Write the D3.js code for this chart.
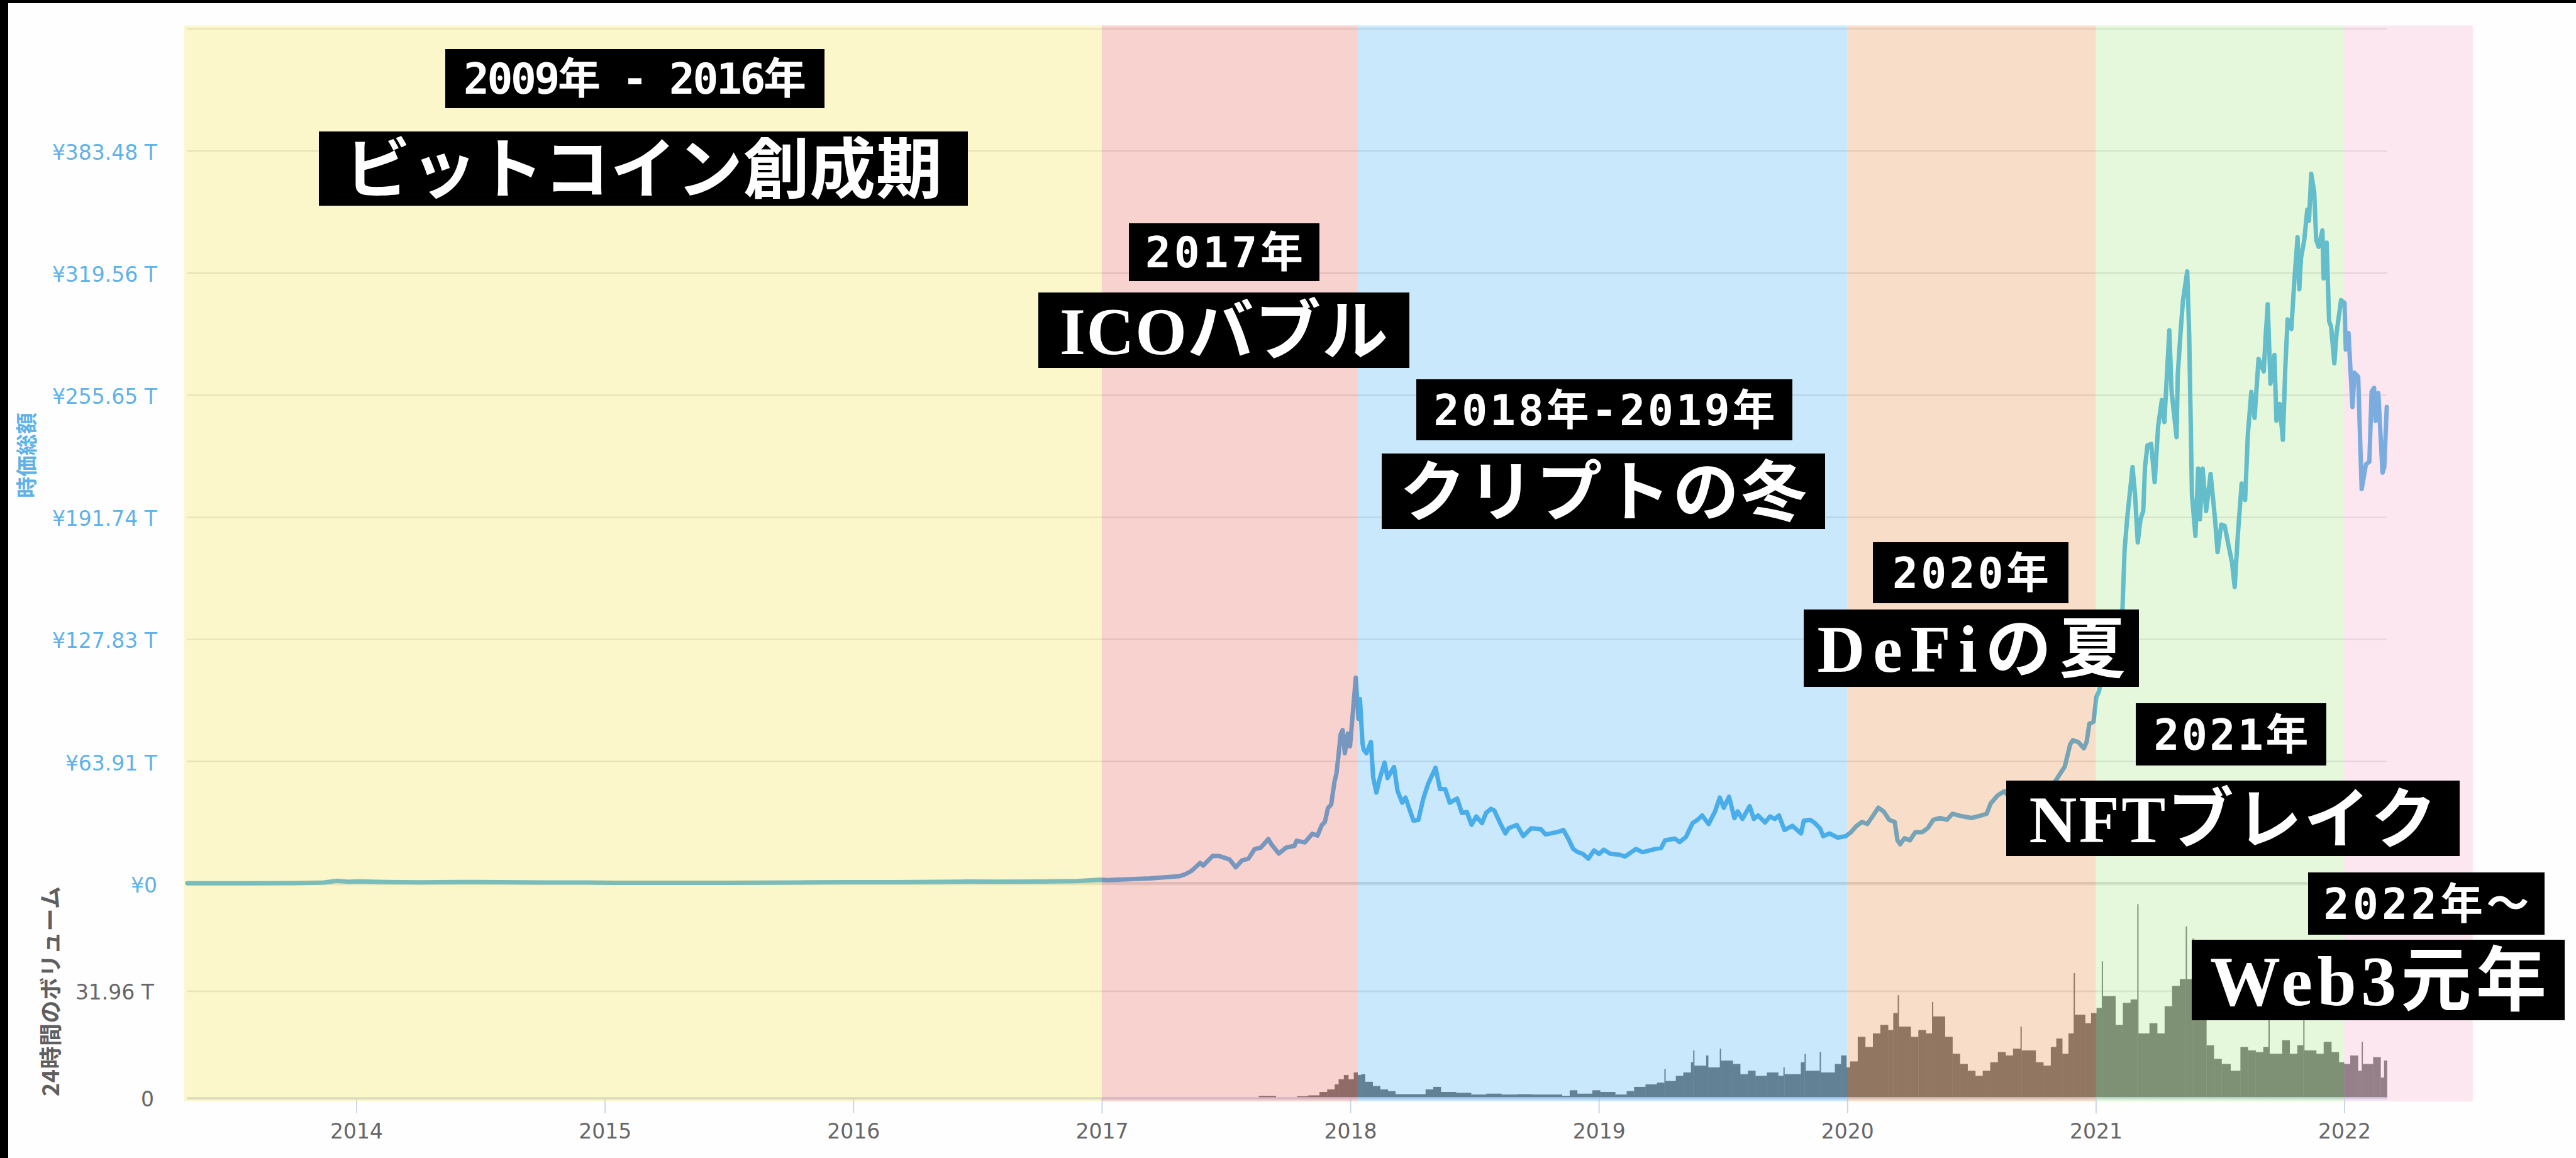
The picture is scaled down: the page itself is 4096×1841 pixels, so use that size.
<!DOCTYPE html>
<html><head><meta charset="utf-8">
<script src="https://cdn.jsdelivr.net/npm/d3@7"></script>
<style>html,body{margin:0;padding:0;background:#fff;overflow:hidden}</style>
</head><body>
<svg id="chart" width="4096" height="1841" xmlns="http://www.w3.org/2000/svg"></svg>
<script>
// ---------- DATA (decimal years, trillions of yen) ----------
const priceYears = [
2013.32,2013.42,2013.58,2013.75,2013.87,2013.92,2013.97,2014.01,2014.12,2014.25,2014.42,2014.58,2014.75,2014.92,
2015.04,2015.25,2015.50,2015.84,2015.96,2016.17,2016.46,2016.58,2016.75,2016.90,2016.995,
2017.024,2017.193,2017.311,2017.337,2017.362,2017.396,2017.408,2017.446,2017.472,2017.514,2017.539,2017.564,2017.590,
2017.615,2017.640,2017.670,2017.682,2017.712,2017.742,2017.775,2017.784,2017.817,2017.847,2017.868,2017.885,2017.898,
2017.910,2017.923,2017.936,2017.944,2017.952,2017.961,2017.969,2017.978,2017.990,2017.999,2018.007,2018.022,2018.033,
2018.039,2018.049,2018.054,2018.065,2018.083,2018.092,2018.105,2018.118,2018.138,2018.150,2018.176,2018.190,2018.209,
2018.222,2018.241,2018.254,2018.274,2018.293,2018.313,2018.343,2018.361,2018.382,2018.400,2018.430,2018.449,2018.469,
2018.488,2018.507,2018.530,2018.546,2018.566,2018.579,2018.605,2018.624,2018.637,2018.670,2018.696,2018.728,2018.767,
2018.786,2018.838,2018.858,2018.877,2018.897,2018.916,2018.936,2018.958,2018.981,2019.001,2019.020,2019.046,2019.085,
2019.105,2019.150,2019.176,2019.228,2019.251,2019.267,2019.306,2019.325,2019.351,2019.377,2019.397,2019.416,2019.442,
2019.468,2019.487,2019.503,2019.524,2019.546,2019.559,2019.578,2019.607,2019.624,2019.641,2019.669,2019.689,2019.708,
2019.725,2019.747,2019.779,2019.814,2019.825,2019.851,2019.870,2019.890,2019.903,2019.929,2019.961,2019.994,
2020.015,2020.037,2020.059,2020.081,2020.103,2020.125,2020.147,2020.169,2020.191,2020.202,2020.213,2020.230,2020.252,
2020.274,2020.302,2020.324,2020.346,2020.373,2020.401,2020.423,2020.456,2020.500,2020.533,2020.561,2020.577,2020.605,
2020.632,2020.66,2020.70,2020.74,2020.79,2020.82,2020.853,2020.875,2020.897,2020.908,2020.930,2020.952,2020.963,2020.974,
2020.991,2021.002,2021.013,2021.03,2021.05,2021.07,2021.09,2021.10,2021.107,2021.116,2021.126,2021.148,2021.158,2021.169,
2021.180,2021.191,2021.198,2021.208,2021.223,2021.237,2021.251,2021.266,2021.276,2021.296,2021.305,2021.325,2021.330,
2021.341,2021.351,2021.368,2021.376,2021.387,2021.401,2021.412,2021.419,2021.430,2021.444,2021.462,2021.480,2021.490,
2021.505,2021.519,2021.533,2021.548,2021.559,2021.572,2021.587,2021.601,2021.612,2021.626,2021.639,2021.655,2021.676,
2021.683,2021.692,2021.703,2021.719,2021.727,2021.740,2021.753,2021.763,2021.772,2021.787,2021.799,2021.812,2021.819,
2021.826,2021.839,2021.851,2021.858,2021.867,2021.879,2021.887,2021.897,2021.912,2021.917,2021.929,2021.939,2021.947,
2021.960,2021.969,2021.987,2022.001,2022.006,2022.017,2022.033,2022.041,2022.056,2022.070,2022.087,2022.101,2022.110,
2022.120,2022.126,2022.137,2022.154,2022.161,2022.171
];
const priceValues = [
0.15,0.12,0.12,0.16,0.5,1.4,0.9,1.1,0.8,0.6,0.8,0.7,0.5,0.5,
0.35,0.4,0.4,0.6,0.7,0.7,1.0,0.9,1.0,1.3,2.0,
1.8,2.7,3.8,4.9,6.7,10.8,9.4,14.4,14.4,12.6,8.5,12.1,13.0,
18.0,18.8,23.3,20.6,15.7,18.8,19.7,22.4,21.5,26.0,25.1,30.5,32.3,
39.5,41.3,53.0,57.4,66.4,78.1,80.3,68.2,78.5,71.8,84.4,107.7,86.2,
96.5,73.6,70.0,68.2,74.1,55.7,47.6,54.8,63.3,55.2,61.0,48.5,42.3,
45.0,37.8,32.9,33.3,44.1,52.1,60.6,49.4,49.4,42.3,44.5,36.9,37.4,
30.7,35.1,31.6,36.9,39.1,38.3,31.1,26.2,28.9,30.7,24.8,28.9,28.4,
25.7,27.1,28.0,23.5,18.1,16.4,15.5,13.0,17.3,15.5,17.7,15.6,15.0,
14.1,18.1,16.4,18.1,18.6,22.6,23.5,21.7,24.4,31.6,33.3,35.6,31.1,
37.8,45.0,39.6,45.4,34.2,37.8,33.8,40.5,33.8,35.6,32.0,35.1,33.8,
35.6,28.0,30.2,26.2,32.9,33.3,31.6,28.9,24.8,26.2,24.0,24.8,
26.9,30.1,32.2,31.2,35.4,39.7,37.6,33.3,32.2,22.6,20.5,23.7,22.6,
26.9,26.9,29.0,33.3,34.3,33.3,36.5,35.4,34.3,35.4,36.5,41.9,46.1,
48.3,44,42,45,47,50,56.8,61.1,72.9,75.0,74.0,70.8,74.0,83.6,
84.7,97.5,100.7,112,108,120,128,135,142.5,174.6,190.7,218.0,203.6,178.6,
190.7,195.0,218.0,229.4,230.1,210.1,239.5,253.1,241.6,289.6,257.6,233.7,266.7,
288.2,305.4,320.4,286.8,203.6,182.1,217.2,190.7,217.2,195.0,214.4,190.7,173.5,
187.9,187.2,177.8,168.2,155.3,183.1,209.4,200.8,235.2,257.4,243.8,274.6,268.1,
285.3,303.2,261.7,276.7,242.3,251.0,232.3,271.0,295.3,290.3,315.4,338.3,311.1,
327.6,336.9,352.7,347.0,371.6,362.0,336.9,333.3,341.9,316.8,335.5,294.4,291.5,
272.4,288.2,305.4,304.0,279.6,288.2,249.5,267.4,265.3,206.5,219.4,220.8,257.4,
259.5,242.3,256.7,215.1,218.0,249.5
];
const volumeYears = [
2017.632,2017.700,2017.785,2017.831,2017.876,2017.907,2017.937,2017.953,2017.974,2017.992,2018.014,2018.029,2018.044,
2018.059,2018.090,2018.120,2018.151,2018.181,2018.242,2018.303,2018.334,2018.364,2018.425,2018.486,2018.547,2018.608,
2018.669,2018.730,2018.791,2018.852,2018.883,2018.913,2018.974,2019.005,2019.066,2019.112,2019.142,2019.188,2019.234,
2019.264,2019.268,2019.310,2019.340,2019.371,2019.380,2019.384,2019.432,2019.440,2019.487,2019.491,2019.539,2019.569,
2019.600,2019.630,2019.676,2019.722,2019.743,2019.747,2019.813,2019.828,2019.832,2019.889,2019.893,2019.950,2019.975,
2019.996,2020.011,2020.042,2020.072,2020.103,2020.133,2020.164,2020.185,2020.203,2020.207,2020.255,2020.286,2020.316,
2020.341,2020.345,2020.393,2020.423,2020.453,2020.484,2020.515,2020.545,2020.575,2020.606,2020.637,2020.667,2020.697,
2020.701,2020.758,2020.789,2020.819,2020.841,2020.865,2020.890,2020.911,2020.915,2020.957,2020.981,2021.003,2021.024,
2021.028,2021.079,2021.109,2021.140,2021.167,2021.171,2021.216,2021.247,2021.277,2021.307,2021.338,2021.362,2021.366,
2021.390,2021.394,2021.445,2021.475,2021.506,2021.542,2021.582,2021.612,2021.643,2021.674,2021.695,2021.699,2021.750,
2021.780,2021.811,2021.835,2021.839,2021.887,2021.917,2021.948,2021.978,2021.999,2022.024,2022.055,2022.070,2022.074,
2022.116,2022.146,2022.160
];
const volumeValues = [
0.71,0.2,0.61,0.86,1.88,2.64,4.16,5.68,6.95,5.68,7.71,6.95,7.20,
4.92,3.65,2.64,2.13,1.22,1.22,2.64,3.40,1.88,1.62,1.12,1.37,1.12,
1.22,1.12,1.12,0.71,2.38,1.37,2.38,1.88,1.12,2.13,3.40,4.16,4.67,
8.73,5.17,6.70,7.71,10.75,14.31,9.74,12.78,9.23,14.81,11.26,10.25,7.20,
8.22,6.70,7.71,6.70,9.23,7.20,10.75,13.29,8.22,13.80,7.71,10.25,12.78,
9.23,11.01,18.36,15.32,19.38,21.92,20.39,25.47,30.79,21.41,18.36,20.39,19.38,
28.76,24.45,18.36,13.29,10.25,8.22,6.70,8.22,10.75,13.80,12.78,14.81,21.41,
14.31,10.75,9.74,15.32,17.86,13.29,19.38,37.39,24.96,22.42,25.47,26.99,40.94,
30.54,21.92,28.51,29.52,58.04,19.38,22.42,19.38,27.50,33.58,35.61,51.34,35.61,
47.79,23.44,15.83,11.77,10.25,8.22,15.32,14.31,13.80,15.32,23.44,13.29,17.35,
13.29,15.83,23.44,14.31,13.29,16.84,13.80,10.75,10.25,12.78,8.22,16.84,10.25,
12.28,6.19,11.26
];
const priceTicks = [0, 63.91, 127.83, 191.74, 255.65, 319.56, 383.48, 447.39];
const priceTickLabels = ["¥0","¥63.91 T","¥127.83 T","¥191.74 T","¥255.65 T","¥319.56 T","¥383.48 T",""];
const volumeTicks = [0, 31.96, 63.92];
const volumeTickLabels = ["0","31.96 T",""];
const yearTicks = [2014,2015,2016,2017,2018,2019,2020,2021,2022];
const eraStarts = [2013.307, 2017.0, 2018.03, 2020.0, 2021.0, 2022.0];
const eraEnds   = [2017.0, 2018.03, 2020.0, 2021.0, 2022.0, 2022.517];
const eraYearLabels = ["2009年 - 2016年","2017年","2018年-2019年","2020年","2021年","2022年〜"];
const eraTitles = ["ビットコイン創成期","ICOバブル","クリプトの冬","DeFiの夏","NFTブレイク","Web3元年"];

// ---------- STYLE / LAYOUT ----------
const eraColors = ["#f5e852","#eb6c62","#52b6f5","#eb944b","#aceb8a","#f8b2d4"];
const eraOpacity = 0.3;
// annotation boxes [x, y, w, h, textWidth]
const yearBoxes = [[708,78,603,94,545],[1795,355,303,92,251],[2252,603,598,97,543],[2978,862,311,97,249],[3396,1118,303,99,246],[3670,1387,376,99,327]];
const titleBoxes = [[507,209,1032,118,950],[1651,465,590,120,522],[2197,721,705,120,648],[2868,969,533,123,490],[3190,1241,721,120,648],[3485,1494,593,128,535]];

const svg = d3.select("#chart");
const X0 = 297.5, X1 = 3795.5;
const x = d3.scaleLinear().domain([2013.319, 2022.172]).range([X0, X1]);
const yP = d3.scaleLinear().domain([0, 447.39]).range([1404.6, 46]);
const yV = d3.scaleLinear().domain([0, 63.92]).range([1746, 1406]);

svg.append("rect").attr("width",4096).attr("height",1841).attr("fill","#fefefe");

// gridlines
const grid = svg.append("g");
priceTicks.forEach((t,i) => {
  grid.append("line").attr("x1",X0).attr("x2",X1).attr("y1",yP(t)).attr("y2",yP(t))
    .attr("stroke", i===0 ? "#d6d6d6" : "#e3e3e3").attr("stroke-width", i===0 ? 4.5 : 2.4);
});
volumeTicks.forEach((t,i) => {
  if (i===0) return;
  grid.append("line").attr("x1",X0).attr("x2",X1).attr("y1",yV(t)).attr("y2",yV(t))
    .attr("stroke","#e3e3e3").attr("stroke-width",2.4);
});

// volume bars
const vol = svg.append("g");
volumeYears.forEach((yr,i) => {
  const next = i < volumeYears.length-1 ? volumeYears[i+1] : 2022.172;
  const xa = x(yr), xb = x(next);
  vol.append("rect").attr("x",xa).attr("width",Math.max(1.2,xb-xa+0.4))
    .attr("y",yV(volumeValues[i])).attr("height",yV(0)-yV(volumeValues[i]))
    .attr("fill","#6b6b6b");
});

// x axis line and ticks
svg.append("line").attr("x1",X0).attr("x2",X1).attr("y1",yV(0)).attr("y2",yV(0))
  .attr("stroke","#ccd6eb").attr("stroke-width",3.5);
const xAxis = d3.axisBottom(x).tickValues(yearTicks).tickFormat(d3.format("d")).tickSize(24).tickSizeOuter(0);
const gx = svg.append("g").attr("transform",`translate(0,${yV(0)})`).call(xAxis);
gx.select(".domain").remove();
gx.selectAll(".tick line").attr("stroke","#ccd6eb").attr("stroke-width",2);
gx.selectAll(".tick text").attr("fill","#666").attr("font-family","DejaVu Sans")
  .attr("font-size",33).attr("y",41).attr("dy","0.71em");

// price line
const line = d3.line().x((d,i)=>x(priceYears[i])).y((d,i)=>yP(priceValues[i]));
svg.append("path").datum(priceValues).attr("d",line).attr("fill","none")
  .attr("stroke","#45a9e5").attr("stroke-width",7).attr("stroke-linejoin","round").attr("stroke-linecap","round");

// era overlays
eraStarts.forEach((s,i) => {
  svg.append("rect").attr("x",x(s)).attr("width",x(eraEnds[i])-x(s))
    .attr("y",40.5).attr("height",1751-40.5)
    .attr("fill",eraColors[i]).attr("fill-opacity",eraOpacity);
});

// y axis labels
const yl = svg.append("g").attr("font-family","DejaVu Sans").attr("font-size",33).attr("text-anchor","end");
priceTicks.forEach((t,i) => {
  if (!priceTickLabels[i]) return;
  yl.append("text").attr("x",250).attr("y",yP(t)+14).attr("fill","#5eb2e8").text(priceTickLabels[i]);
});
volumeTicks.forEach((t,i) => {
  if (!volumeTickLabels[i]) return;
  yl.append("text").attr("x",245).attr("y",yV(t)+13).attr("fill","#666").text(volumeTickLabels[i]);
});
svg.append("text").attr("transform","translate(40,724) rotate(-90)").attr("text-anchor","middle")
  .attr("dominant-baseline","central").attr("font-family","Noto Sans CJK JP").attr("font-weight",700)
  .attr("font-size",34).attr("fill","#5eb2e8").attr("textLength",136).attr("lengthAdjust","spacingAndGlyphs").text("時価総額");
svg.append("text").attr("transform","translate(78,1576) rotate(-90)").attr("text-anchor","middle")
  .attr("dominant-baseline","central").attr("font-family","Noto Sans CJK JP").attr("font-weight",700)
  .attr("font-size",36).attr("fill","#5f5f5f").attr("textLength",334).attr("lengthAdjust","spacing").text("24時間のボリューム");

// annotation boxes
const ann = svg.append("g");
yearBoxes.forEach((b,i) => {
  ann.append("rect").attr("x",b[0]).attr("y",b[1]).attr("width",b[2]).attr("height",b[3]).attr("fill","#000");
  ann.append("text").attr("x",b[0]+b[2]/2).attr("y",b[1]+b[3]/2+0.36*68).attr("text-anchor","middle")
    .attr("font-family","'DejaVu Sans Mono','Noto Sans CJK JP',monospace").attr("font-weight",700).attr("font-size",68)
    .attr("fill","#fff").attr("textLength",b[4]).attr("lengthAdjust","spacing").text(eraYearLabels[i]);
});
titleBoxes.forEach((b,i) => {
  const fs = i===5 ? 112 : 105;
  ann.append("rect").attr("x",b[0]).attr("y",b[1]).attr("width",b[2]).attr("height",b[3]).attr("fill","#000");
  ann.append("text").attr("x",b[0]+b[2]/2).attr("y",b[1]+b[3]/2+0.36*fs).attr("text-anchor","middle")
    .attr("font-family","'Liberation Serif','Noto Sans CJK JP',serif").attr("font-weight",700).attr("font-size",fs)
    .attr("fill","#fff").attr("textLength",b[4]).attr("lengthAdjust","spacing").text(eraTitles[i]);
});

// black frame edges
svg.append("rect").attr("x",0).attr("y",0).attr("width",4096).attr("height",5).attr("fill","#000");
svg.append("rect").attr("x",0).attr("y",0).attr("width",13).attr("height",1841).attr("fill","#000");
</script>
</body></html>
